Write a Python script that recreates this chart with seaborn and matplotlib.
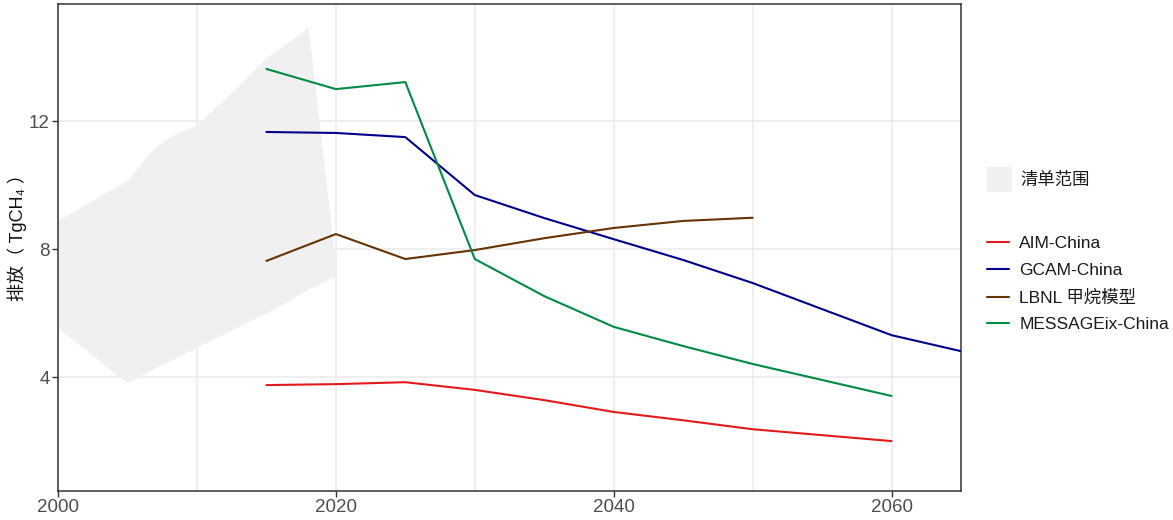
import numpy as np
import pandas as pd
import matplotlib
matplotlib.use("Agg")
import matplotlib.pyplot as plt
from matplotlib.patches import Patch
from matplotlib.lines import Line2D
import seaborn as sns

# Inventory envelope (historical range), TgCH4
inv_years = list(range(2000, 2021))
inv_upper = [8.91, 9.15, 9.4, 9.65, 9.9, 10.16, 10.7, 11.2, 11.5, 11.7, 11.88,
             12.3, 12.7, 13.1, 13.55, 13.97, 14.3, 14.6, 14.94, 11.2, 7.4]
inv_lower = [5.53, 5.2, 4.85, 4.5, 4.15, 3.81, 4.05, 4.3, 4.5, 4.72, 4.94,
             5.15, 5.37, 5.58, 5.8, 6.0, 6.25, 6.5, 6.75, 6.95, 7.16]

# Model projections
aim_years = [2015, 2020, 2025, 2030, 2035, 2040, 2045, 2050, 2060]
aim_vals = [3.75, 3.78, 3.84, 3.6, 3.28, 2.91, 2.65, 2.37, 2.0]

gcam_years = [2015, 2020, 2025, 2030, 2035, 2040, 2045, 2050, 2060, 2065]
gcam_vals = [11.66, 11.63, 11.5, 9.69, 8.97, 8.31, 7.66, 6.94, 5.31, 4.81]

lbnl_years = [2015, 2020, 2025, 2030, 2035, 2040, 2045, 2050]
lbnl_vals = [7.63, 8.47, 7.69, 7.97, 8.34, 8.66, 8.88, 8.98]

msg_years = [2015, 2020, 2025, 2030, 2035, 2040, 2045, 2050, 2060]
msg_vals = [13.63, 13.0, 13.22, 7.69, 6.53, 5.57, 4.97, 4.41, 3.41]

model_names = ["AIM-China", "GCAM-China", "LBNL 甲烷模型", "MESSAGEix-China"]
model_colors = ["#e31a1c", "#00008b", "#663300", "#008b45"]
inv_label = "清单范围"

x_ticks = [2000, 2020, 2040, 2060]
y_ticks = [4, 8, 12]

frames = []
for name, yrs, vals in zip(model_names,
                           [aim_years, gcam_years, lbnl_years, msg_years],
                           [aim_vals, gcam_vals, lbnl_vals, msg_vals]):
    frames.append(pd.DataFrame({"year": yrs, "value": vals, "model": name}))
df = pd.concat(frames, ignore_index=True)

sns.set_theme(style="white")
mixed = ["Liberation Sans", "Noto Sans CJK SC", "DejaVu Sans"]
plt.rcParams["font.family"] = mixed

W, H = 1173, 520
fig = plt.figure(figsize=(W / 100, H / 100), dpi=100)
ax = fig.add_axes([58 / W, 29 / H, (961 - 58) / W, (491 - 4) / H])

ax.fill_between(inv_years, inv_lower, inv_upper, color="#f0f0f0", lw=0, zorder=1)

sns.lineplot(data=df, x="year", y="value", hue="model", hue_order=model_names,
             palette=dict(zip(model_names, model_colors)), linewidth=1.5,
             legend=False, ax=ax, zorder=3)

ax.set_xlim(2000, 2065)
ax.set_ylim(0.44, 15.66)
ax.set_xticks(x_ticks)
ax.set_xticks([2010, 2030, 2050], minor=True)
ax.set_yticks(y_ticks)
ax.grid(True, which="both", color="#ebebeb", linewidth=1.1, zorder=0)
ax.set_axisbelow(True)
ax.tick_params(axis="both", which="major", direction="out", length=4, width=1,
               color="#333333", labelsize=13.5, labelcolor="#4d4d4d", pad=2,
               bottom=True, left=True)
ax.tick_params(axis="both", which="minor", length=0)
for s in ax.spines.values():
    s.set_color("#333333")
    s.set_linewidth(1.1)

ax.set_xlabel("")
ax.set_ylabel("排放（ TgCH₄ ）", fontsize=13, color="#111111", family=mixed,
              fontweight="medium")
ax.yaxis.set_label_coords((27 - 58) / (961 - 58), (491 - 233) / (491 - 4))

# Legends: inventory band and model lines
fs = 12.5
band_handle = [Patch(facecolor="#f0f0f0", edgecolor="none")]
leg1 = fig.legend(band_handle, [inv_label], loc="upper left",
                  bbox_to_anchor=(987 / W, 1 - 167 / H), frameon=False,
                  borderpad=0, borderaxespad=0,
                  handlelength=1.44, handleheight=1.85, handletextpad=0.46,
                  prop={"family": mixed, "size": fs, "weight": "medium"})
line_handles = [Line2D([0], [0], color=c, lw=1.5) for c in model_colors]
leg2 = fig.legend(line_handles, model_names, loc="upper left",
                  bbox_to_anchor=(987 / W, 1 - 236 / H), frameon=False,
                  borderpad=0, borderaxespad=0,
                  handlelength=1.27, handletextpad=0.6, labelspacing=0.66,
                  prop={"family": mixed, "size": fs, "weight": "medium"})
for t in list(leg1.get_texts()) + list(leg2.get_texts()):
    t.set_color("#1a1a1a")

fig.savefig("out.png", dpi=100)
